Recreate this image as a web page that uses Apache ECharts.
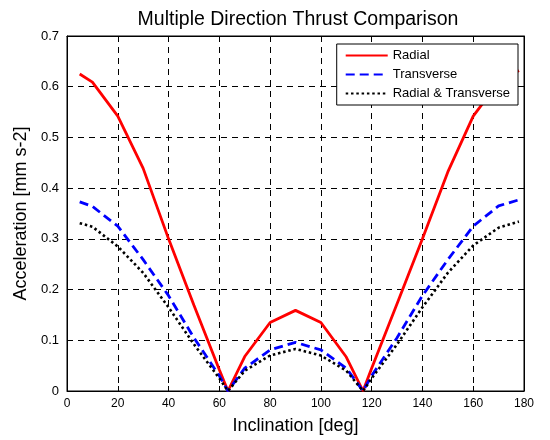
<!DOCTYPE html>
<html>
<head>
<meta charset="utf-8">
<script src="https://cdn.jsdelivr.net/npm/echarts@6/dist/echarts.min.js"></script>
<style>
  html, body { margin: 0; padding: 0; background: #fff; }
  #chart { width: 550px; height: 440px; }
</style>
</head>
<body>
<div id="chart"></div>
<script>
// inclination samples (deg)
const inclination = [5, 10, 20, 30, 40, 50, 60, 63.4, 70, 80, 90, 100, 110, 116.6, 120, 130, 140, 150, 160, 170, 178];
// acceleration [mm s-2]
const radial = [0.625, 0.609, 0.542, 0.439, 0.300, 0.169, 0.042, 0, 0.068, 0.135, 0.159, 0.135, 0.067, 0, 0.045, 0.172, 0.300, 0.432, 0.542, 0.609, 0.632];
const transverse = [0.373, 0.364, 0.325, 0.259, 0.188, 0.105, 0.030, 0, 0.045, 0.081, 0.096, 0.081, 0.045, 0, 0.030, 0.105, 0.188, 0.259, 0.325, 0.365, 0.377];
const radialTransverse = [0.331, 0.324, 0.285, 0.233, 0.165, 0.092, 0.025, 0, 0.040, 0.070, 0.083, 0.070, 0.040, 0, 0.025, 0.092, 0.165, 0.233, 0.287, 0.322, 0.334];
const yTicks = [0, 0.1, 0.2, 0.3, 0.4, 0.5, 0.6, 0.7];

const FONT = "Liberation Sans";
const pairs = ys => inclination.map((x, i) => [x, ys[i]]);

const chart = echarts.init(document.getElementById("chart"));

const gridLine = { show: true, lineStyle: { color: "#000", type: [6, 5], width: 1 } };
const frameAxis = {
    axisLine: { show: true, onZero: false, lineStyle: { color: "#000" } },
    axisTick: { show: true, inside: true, length: 5, lineStyle: { color: "#000" } },
};

chart.setOption({
    animation: false,
    backgroundColor: "#fff",
    textStyle: { fontFamily: FONT },
    title: {
        text: "Multiple Direction Thrust Comparison",
        left: 293, top: 5, textAlign: "center",
        textStyle: { fontFamily: FONT, fontSize: 19.5, fontWeight: "normal", color: "#000" }
    },
    grid: { left: 67, right: 26, top: 36, bottom: 46, show: true, borderColor: "#000", borderWidth: 1 },
    legend: {
        right: 32, top: 44,
        orient: "vertical",
        itemGap: 6, itemWidth: 42, itemHeight: 14,
        padding: [5, 8, 5, 8],
        backgroundColor: "#fff", borderColor: "#000", borderWidth: 1,
        itemStyle: { opacity: 0 },
        textStyle: { fontFamily: FONT, fontSize: 13, color: "#000" },
        data: ["Radial", "Transverse", "Radial & Transverse"]
    },
    xAxis: [{
        type: "value", min: 0, max: 180, interval: 20,
        name: "Inclination [deg]", nameLocation: "middle", nameGap: 26,
        nameTextStyle: { fontFamily: FONT, fontSize: 18, color: "#000" },
        ...frameAxis,
        axisLabel: { fontFamily: FONT, fontSize: 12, color: "#000", margin: 7 },
        splitLine: gridLine
    }, {
        type: "value", min: 0, max: 180, interval: 20, position: "top",
        ...frameAxis,
        axisLabel: { show: false }, splitLine: { show: false }
    }],
    yAxis: [{
        type: "value", min: 0, max: 0.7, interval: 0.1,
        name: "Acceleration [mm s-2]", nameLocation: "middle", nameGap: 31,
        nameTextStyle: { fontFamily: FONT, fontSize: 18, color: "#000" },
        ...frameAxis,
        axisLabel: { fontFamily: FONT, fontSize: 13, color: "#000", margin: 8,
            formatter: v => {
                const r = Math.round(v * 10) / 10;
                return yTicks.includes(r) ? String(r) : "";
            } },
        splitLine: gridLine
    }, {
        type: "value", min: 0, max: 0.7, interval: 0.1, position: "right",
        ...frameAxis,
        axisLabel: { show: false }, splitLine: { show: false }
    }],
    series: [{
        name: "Radial", type: "line", data: pairs(radial),
        showSymbol: false, symbol: "none", color: "#ff0000",
        lineStyle: { color: "#ff0000", width: 2.8, type: "solid" }
    }, {
        name: "Transverse", type: "line", data: pairs(transverse),
        showSymbol: false, symbol: "none", color: "#0000ff",
        lineStyle: { color: "#0000ff", width: 2.8, type: [9, 5] }
    }, {
        name: "Radial & Transverse", type: "line", data: pairs(radialTransverse),
        showSymbol: false, symbol: "none", color: "#000",
        lineStyle: { color: "#000", width: 2.6, type: [2.5, 2.8] }
    }]
});
</script>
</body>
</html>
